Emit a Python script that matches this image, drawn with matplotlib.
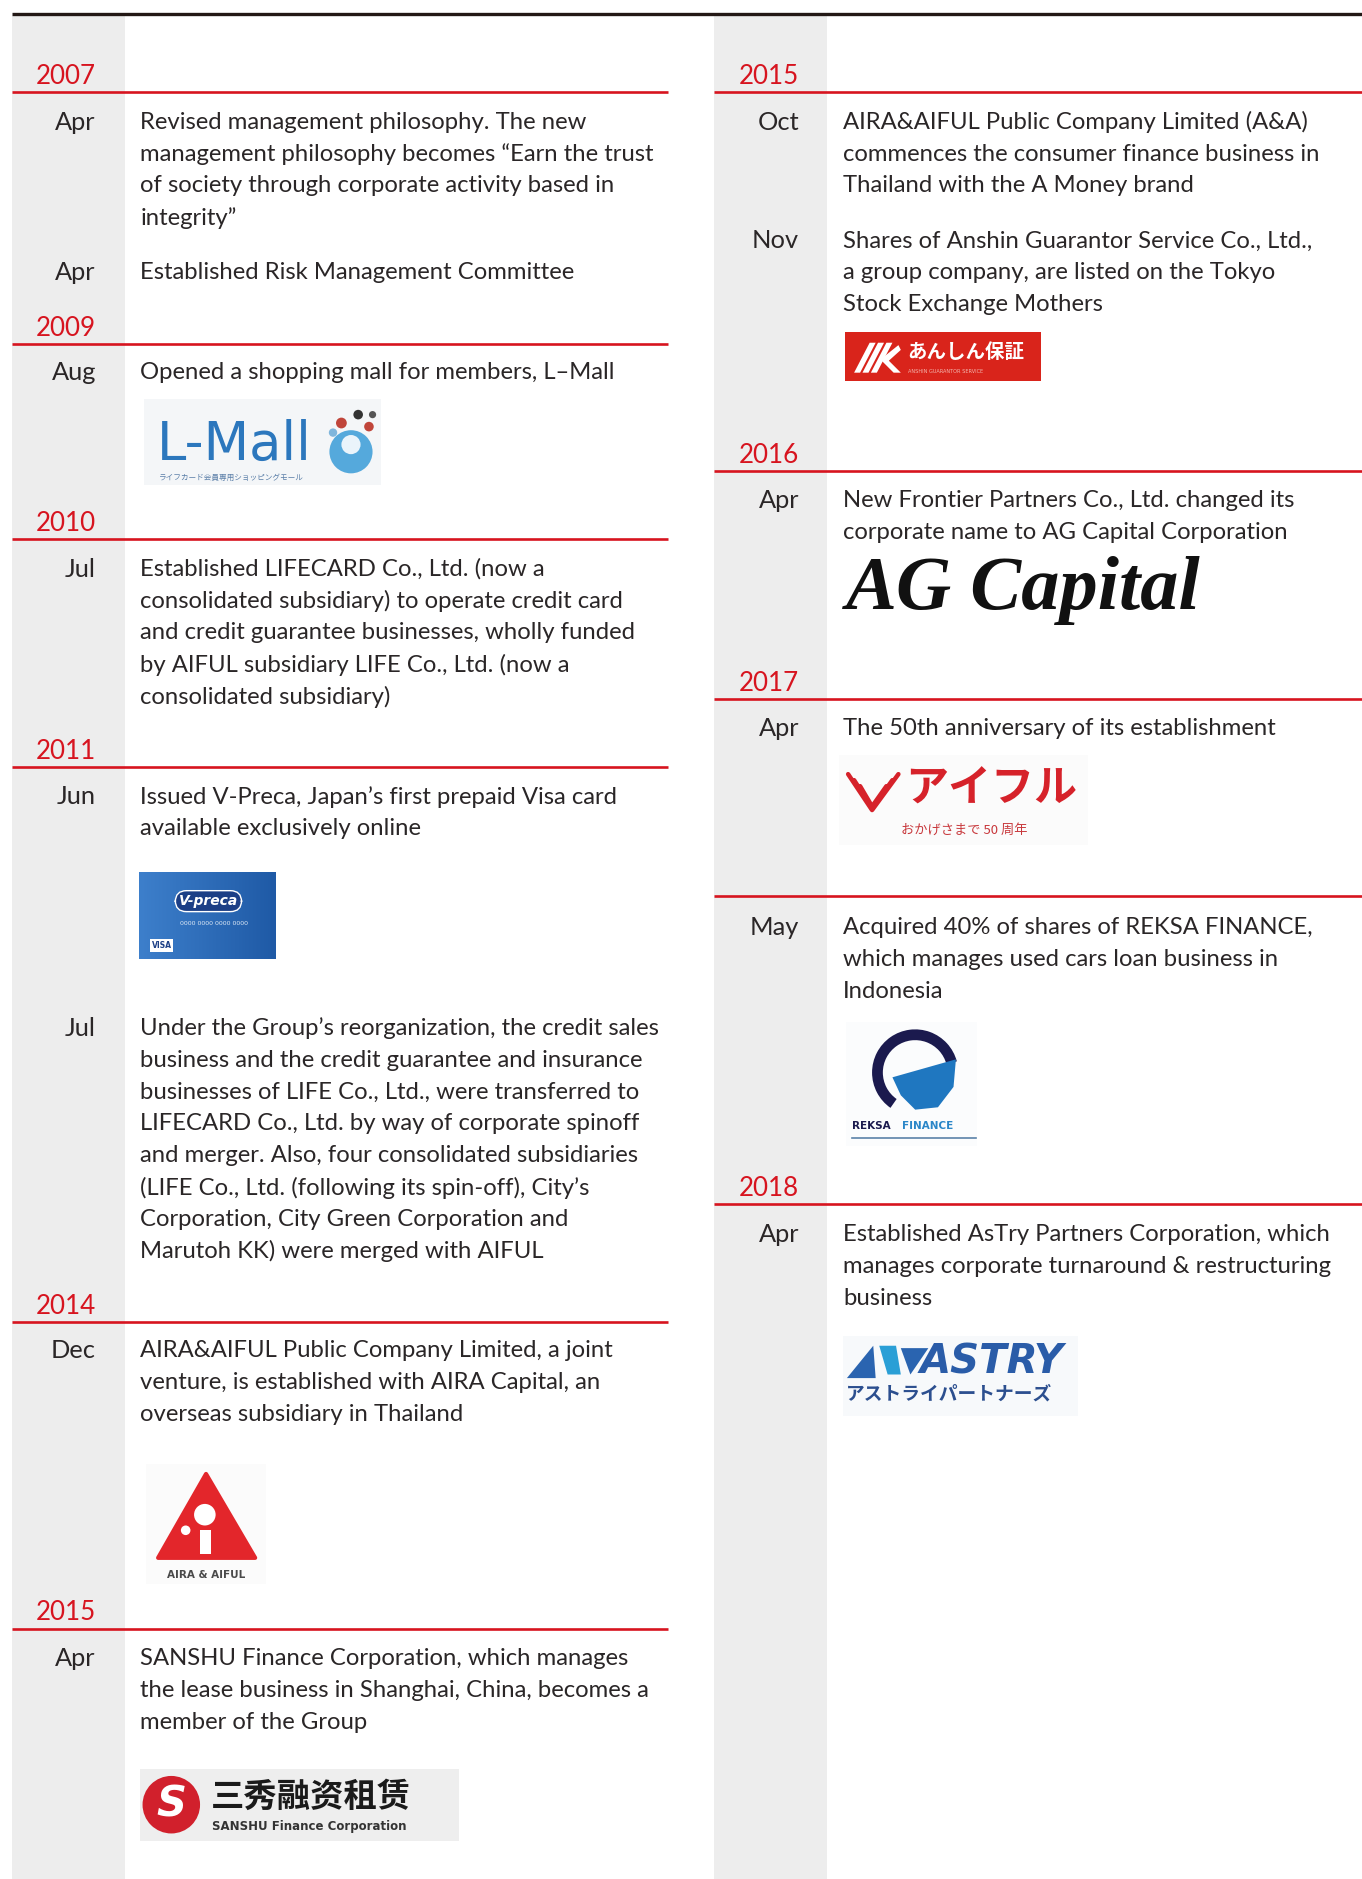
import matplotlib
matplotlib.use("Agg")
import matplotlib.pyplot as plt
from matplotlib.patches import Rectangle, Polygon, Circle, Wedge
import numpy as np

# ---------------- data ----------------
left_years = ["2007", "2009", "2010", "2011", "2014", "2015"]
left_months = ["Apr", "Apr", "Aug", "Jul", "Jun", "Jul", "Dec", "Apr"]
left_texts = [
    ["Revised management philosophy. The new",
     "management philosophy becomes \u201cEarn the trust",
     "of society through corporate activity based in",
     "integrity\u201d"],
    ["Established Risk Management Committee"],
    ["Opened a shopping mall for members, L\u2013Mall"],
    ["Established LIFECARD Co., Ltd. (now a",
     "consolidated subsidiary) to operate credit card",
     "and credit guarantee businesses, wholly funded",
     "by AIFUL subsidiary LIFE Co., Ltd. (now a",
     "consolidated subsidiary)"],
    ["Issued V-Preca, Japan\u2019s first prepaid Visa card",
     "available exclusively online"],
    ["Under the Group\u2019s reorganization, the credit sales",
     "business and the credit guarantee and insurance",
     "businesses of LIFE Co., Ltd., were transferred to",
     "LIFECARD Co., Ltd. by way of corporate spinoff",
     "and merger. Also, four consolidated subsidiaries",
     "(LIFE Co., Ltd. (following its spin-off), City\u2019s",
     "Corporation, City Green Corporation and",
     "Marutoh KK) were merged with AIFUL"],
    ["AIRA&AIFUL Public Company Limited, a joint",
     "venture, is established with AIRA Capital, an",
     "overseas subsidiary in Thailand"],
    ["SANSHU Finance Corporation, which manages",
     "the lease business in Shanghai, China, becomes a",
     "member of the Group"],
]

right_years = ["2015", "2016", "2017", "", "2018"]
right_months = ["Oct", "Nov", "Apr", "Apr", "May", "Apr"]
right_texts = [
    ["AIRA&AIFUL Public Company Limited (A&A)",
     "commences the consumer finance business in",
     "Thailand with the A Money brand"],
    ["Shares of Anshin Guarantor Service Co., Ltd.,",
     "a group company, are listed on the Tokyo",
     "Stock Exchange Mothers"],
    ["New Frontier Partners Co., Ltd. changed its",
     "corporate name to AG Capital Corporation"],
    ["The 50th anniversary of its establishment"],
    ["Acquired 40% of shares of REKSA FINANCE,",
     "which manages used cars loan business in",
     "Indonesia"],
    ["Established AsTry Partners Corporation, which",
     "manages corporate turnaround & restructuring",
     "business"],
]

# ---------------- layout (reference coordinates, 1137 x 1568 grid) ----------------
W, H = 1137, 1568
left_rule_y = [77, 287, 450, 640, 1103, 1359]
left_event_y = [100, 225, 309, 473, 663, 856, 1125, 1382]
right_rule_y = [77, 393, 583, 748, 1005]
right_event_y = [100, 199, 416, 606, 772, 1028]
LINE = 26.6
DY = 2.0

RED = "#d7141f"
INK = "#2a2627"
GRAY = "#ededed"
BODY_FONT = ["Lato", "DejaVu Sans"]
BODY_SIZE = 17.2

fig = plt.figure(figsize=(13.62, 18.79), dpi=100)
ax = fig.add_axes([0, 0, 1, 1])
ax.set_xlim(0, W)
ax.set_ylim(H, 0)
ax.axis("off")

col_defs = [dict(x0=10, x1=558, band=(10, 104), tx=117, mx=80),
            dict(x0=596, x1=W, band=(596, 690), tx=704, mx=667)]
for c in col_defs:
    ax.add_patch(Rectangle((c["band"][0], 13), c["band"][1] - c["band"][0], H - 13,
                           fc=GRAY, ec="none", zorder=0))
ax.plot([10, W], [12, 12], color="#231815", lw=2.4, solid_capstyle="butt", zorder=3)


def draw_column(c, years, rules, months, ev_y, texts):
    for yr, ry in zip(years, rules):
        ax.plot([c["x0"], c["x1"]], [ry, ry], color=RED, lw=1.9, solid_capstyle="butt", zorder=3)
        if yr:
            ax.text(c["mx"], ry - 15 + DY, yr, color=RED, fontsize=18.7, family=BODY_FONT,
                    ha="right", va="center", zorder=4)
    for m, y, lines in zip(months, ev_y, texts):
        ax.text(c["mx"], y + DY, m, color=INK, fontsize=18.3, family=BODY_FONT,
                ha="right", va="center", zorder=4)
        for i, ln in enumerate(lines):
            ax.text(c["tx"], y + i * LINE + DY, ln, color=INK, fontsize=BODY_SIZE,
                    family=BODY_FONT, ha="left", va="center", zorder=4)


draw_column(col_defs[0], left_years, left_rule_y, left_months, left_event_y, left_texts)
draw_column(col_defs[1], right_years, right_rule_y, right_months, right_event_y, right_texts)

CJK_JP = ["Noto Sans CJK JP", "DejaVu Sans"]
CJK_SC = ["Noto Sans CJK SC", "DejaVu Sans"]

# ---------------- logos (approximations) ----------------
# L-Mall
ax.add_patch(Rectangle((120, 333), 198, 72, fc="#f4f6f8", ec="none", zorder=1))
ax.text(131, 371, "L-Mall", fontsize=38, color="#2c77bd", family=["DejaVu Sans"],
        ha="left", va="center", zorder=2)
ax.add_patch(Circle((293, 377), 18, fc="#55a9dc", ec="none", zorder=2))
ax.add_patch(Circle((293, 371), 8, fc="#eaf4fb", ec="none", zorder=3))
for (cx, cy, r, col) in [(285, 353, 4.5, "#c0453a"), (299, 346, 4, "#333333"),
                         (308, 356, 4, "#c0453a"), (278, 361, 3.5, "#7fb6dc"), (311, 346, 3, "#555555")]:
    ax.add_patch(Circle((cx, cy), r, fc=col, ec="none", zorder=3))
ax.text(133, 399, "\u30e9\u30a4\u30d5\u30ab\u30fc\u30c9\u4f1a\u54e1\u5c02\u7528\u30b7\u30e7\u30c3\u30d4\u30f3\u30b0\u30e2\u30fc\u30eb",
        fontsize=5.5, color="#5a7ea8", family=CJK_JP, ha="left", va="center", zorder=2)

# V-preca card
grad = np.linspace(0, 1, 64)[None, :] * np.ones((32, 1))
ax.imshow(grad, extent=(116, 230, 800, 728), cmap=matplotlib.colors.LinearSegmentedColormap.from_list(
    "vp", ["#3d7fcb", "#1f5aa6"]), aspect="auto", zorder=1, interpolation="bilinear")
ax.text(174, 752, "V-preca", fontsize=10, color="white", weight="bold", style="italic",
        family=["DejaVu Sans"], ha="center", va="center", zorder=3,
        bbox=dict(boxstyle="round,pad=0.25,rounding_size=0.8", fc="#1c3f86", ec="white", lw=1))
ax.text(150, 771, "0000 0000 0000 0000", fontsize=4.5, color="#dce8f6", ha="left", va="center", zorder=3)
ax.text(135, 789, "VISA", fontsize=5.5, color="#1c3f86", weight="bold", ha="center", va="center",
        zorder=3, bbox=dict(boxstyle="square,pad=0.2", fc="white", ec="none"))

# AIRA & AIFUL
ax.add_patch(Rectangle((122, 1222), 100, 100, fc="#fbfbfb", ec="none", zorder=1))
ax.add_patch(Polygon([(172, 1230), (132, 1300), (213, 1300)], closed=True, fc="#e3262b",
                     ec="#e3262b", lw=3, joinstyle="round", zorder=2))
ax.add_patch(Circle((171, 1264), 9, fc="white", ec="none", zorder=3))
ax.add_patch(Rectangle((167, 1277), 9, 20, fc="white", ec="none", zorder=3))
ax.add_patch(Circle((155, 1277), 4, fc="white", ec="none", zorder=3))
ax.text(172, 1314, "AIRA & AIFUL", fontsize=7.5, weight="bold", color="#4a4a4a",
        ha="center", va="center", zorder=3)

# SANSHU
ax.add_patch(Rectangle((117, 1476), 266, 60, fc="#eeeeee", ec="none", zorder=1))
ax.add_patch(Circle((143, 1506), 24, fc="#d1202c", ec="none", zorder=2))
ax.text(143, 1506, "S", fontsize=30, weight="bold", style="italic", color="white",
        ha="center", va="center", zorder=3)
ax.text(176, 1500, "\u4e09\u79c0\u878d\u8d44\u79df\u8d41", fontsize=24, weight="bold", color="#1a1a1a",
        family=CJK_SC, ha="left", va="center", zorder=3)
ax.text(177, 1524, "SANSHU Finance Corporation", fontsize=8.5, weight="bold", color="#333333",
        ha="left", va="center", zorder=3)

# Anshin Guarantor
ax.add_patch(Rectangle((705, 277), 164, 41, fc="#d9241b", ec="none", zorder=1))
for k in range(3):
    ax.add_patch(Polygon([(713 + k * 7, 311), (726 + k * 7, 286), (731 + k * 7, 286), (718 + k * 7, 311)],
                         closed=True, fc="white", ec="none", zorder=2))
ax.add_patch(Polygon([(735, 300), (750, 288), (752, 292), (742, 301), (752, 311), (746, 311)],
                     closed=True, fc="white", ec="none", zorder=2))
ax.text(757, 294, "\u3042\u3093\u3057\u3093\u4fdd\u8a3c", fontsize=14, weight="bold", color="white",
        family=CJK_JP, ha="left", va="center", zorder=2)
ax.text(758, 310, "ANSHIN GUARANTOR SERVICE", fontsize=3.6, color="#f3b5ad",
        ha="left", va="center", zorder=2)

# AG Capital
ax.text(706, 493, "AG Capital", fontsize=55, weight="bold", style="italic", color="#111111",
        family=["Liberation Serif", "DejaVu Serif"], ha="left", va="center", zorder=2)

# AIFUL 50th
ax.add_patch(Rectangle((700, 630), 208, 75, fc="#fbfbfb", ec="none", zorder=1))
for k in range(3):
    off = k * 5
    ax.plot([708 + off, 728, 750 - off], [646 + off, 676 - k * 1.5, 646 + off], color="#d6222a",
            lw=3.2, solid_joinstyle="round", solid_capstyle="round", zorder=2)
ax.text(756, 658, "\u30a2\u30a4\u30d5\u30eb", fontsize=31, weight="bold", color="#d6222a",
        family=CJK_JP, ha="left", va="center", zorder=2)
ax.text(805, 693, "\u304a\u304b\u3052\u3055\u307e\u3067 50 \u5468\u5e74", fontsize=9.5, color="#c8383c",
        family=CJK_JP, ha="center", va="center", zorder=2)

# REKSA FINANCE
ax.add_patch(Rectangle((706, 853), 110, 103, fc="#fbfcfd", ec="none", zorder=1))
ax.add_patch(Wedge((764, 895), 36, 125, 345, width=9, fc="#1b1a4e", ec="none", zorder=2))
ax.add_patch(Polygon([(745, 899), (798, 884), (796, 907), (783, 924), (764, 926), (752, 914)],
                     closed=True, fc="#1f77c0", ec="none", zorder=2))
ax.text(711, 940, "REKSA", fontsize=7.5, weight="bold", color="#1b1a4e", ha="left", va="center", zorder=2)
ax.text(753, 940, "FINANCE", fontsize=7.5, weight="bold", color="#2a86c8", ha="left", va="center", zorder=2)
ax.plot([711, 815], [950, 950], color="#5b82a8", lw=1.2, zorder=2)

# AsTry
ax.add_patch(Rectangle((704, 1115), 196, 67, fc="#f7f9fb", ec="none", zorder=1))
ax.add_patch(Polygon([(707, 1150), (729, 1123), (731, 1150)], closed=True, fc="#2a64b0", ec="none", zorder=2))
ax.add_patch(Polygon([(734, 1123), (748, 1123), (752, 1147), (741, 1147)], closed=True,
                     fc="#2a9fd6", ec="none", zorder=2))
ax.add_patch(Polygon([(752, 1125), (775, 1125), (760, 1147)], closed=True, fc="#2a64b0", ec="none", zorder=2))
ax.text(768, 1137, "ASTRY", fontsize=29, weight="bold", style="italic", color="#2a5ca8",
        ha="left", va="center", zorder=2)
ax.text(706, 1163, "\u30a2\u30b9\u30c8\u30e9\u30a4\u30d1\u30fc\u30c8\u30ca\u30fc\u30ba", fontsize=13.5,
        weight="bold", style="italic", color="#2c4f8f", family=CJK_JP, ha="left", va="center", zorder=2)

ax.set_xlim(0, W)
ax.set_ylim(H, 0)
fig.savefig("out.png", dpi=100, facecolor="white")
